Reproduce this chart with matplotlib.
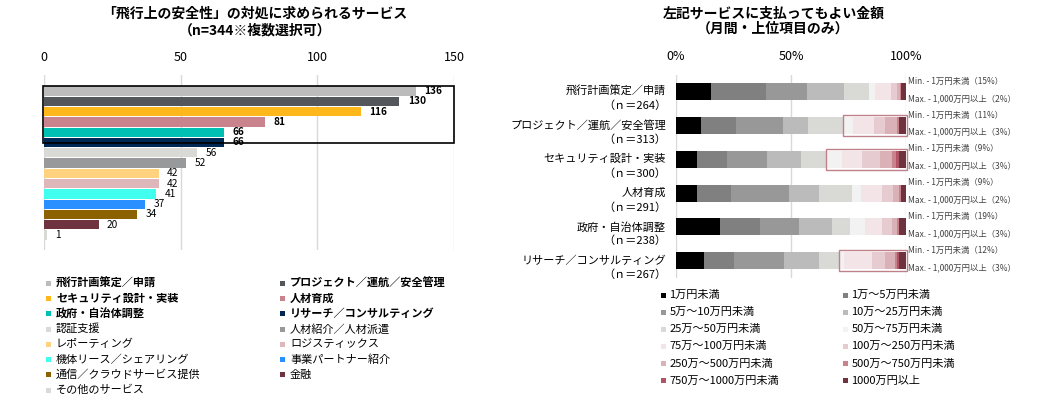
import matplotlib
matplotlib.use("Agg")
import numpy as np
import matplotlib.pyplot as plt
from matplotlib.patches import Rectangle
from matplotlib.transforms import blended_transform_factory

plt.rcParams['font.family'] = ['Noto Sans CJK JP', 'DejaVu Sans']

# ---------------------- Data ----------------------
services = ["飛行計画策定／申請", "プロジェクト／運航／安全管理", "セキュリティ設計・実装",
            "人材育成", "政府・自治体調整", "リサーチ／コンサルティング",
            "認証支援", "人材紹介／人材派遣", "レポーティング", "ロジスティックス",
            "機体リース／シェアリング", "事業パートナー紹介", "通信／クラウドサービス提供",
            "金融", "その他のサービス"]
counts = [136, 130, 116, 81, 66, 66, 56, 52, 42, 42, 41, 37, 34, 20, 1]
service_colors = ["#bcbcbc", "#53565a", "#ffb81c", "#c8838c", "#00bfb3", "#002855",
                  "#d9d9d6", "#97999b", "#ffd27f", "#deb7bb", "#40ffee", "#2a90ff",
                  "#8c6100", "#6f333f", "#d9d9d6"]
n_highlight = 6

price_bands = ["1万円未満", "1万～5万円未満", "5万～10万円未満", "10万～25万円未満",
               "25万～50万円未満", "50万～75万円未満", "75万～100万円未満", "100万～250万円未満",
               "250万～500万円未満", "500万～750万円未満", "750万～1000万円未満", "1000万円以上"]
band_colors = ["#000000", "#808080", "#989898", "#bbbbbb", "#d9d9d6", "#f2f2f2",
               "#f2e4e7", "#e6cbd0", "#dbb1b8", "#c8838c", "#b05565", "#6f333f"]
top_items = ["飛行計画策定／申請", "プロジェクト／運航／安全管理", "セキュリティ設計・実装",
             "人材育成", "政府・自治体調整", "リサーチ／コンサルティング"]
top_n = [264, 313, 300, 291, 238, 267]
shares = [
    [15, 24, 18, 16, 11, 2.5, 7, 2.5, 1.5, 0.3, 0.2, 2],
    [11, 15, 20.5, 11, 15, 4.5, 9, 5, 5, 0.8, 0.2, 3],
    [9, 13, 17.5, 15, 10.5, 7, 9, 7.5, 5.5, 1.5, 1.5, 3],
    [9, 15, 25, 13, 14.5, 4, 9, 5, 2.5, 0.8, 0.2, 2],
    [19, 17.5, 17, 14.5, 7.5, 6.5, 7.5, 4.5, 2, 0.8, 0.2, 3],
    [12, 13, 22, 15, 9, 2, 12, 6, 4, 1.3, 0.7, 3],
]
min_pct = [15, 11, 9, 9, 19, 12]
max_pct = [2, 3, 3, 2, 3, 3]
boxed = [False, True, True, False, False, True]

# ---------------------- Layout helpers ----------------------
W, H = 1058, 399
fig = plt.figure(figsize=(W / 100, H / 100), dpi=100)


def fx(px):
    return px / W


def fy(py):
    return 1 - py / H


def legend_block(items, colors, x_cols, y0, dy, bold_n=0, fontsize=8, msize=5, gap=8):
    for k, (lab, col) in enumerate(zip(items, colors)):
        r, c = divmod(k, 2)
        xm, y = x_cols[c], y0 + r * dy
        fig.patches.append(Rectangle((fx(xm - msize / 2), fy(y + msize / 2)),
                                     msize / W, msize / H, transform=fig.transFigure,
                                     color=col, lw=0))
        fig.text(fx(xm + gap), fy(y), lab, ha='left', va='center', fontsize=fontsize,
                 weight='bold' if k < bold_n else 'normal')


# ---------------------- Left: services ----------------------
ax1 = fig.add_axes([fx(44), fy(250), fx(454) - fx(44), fy(75) - fy(250)])
y = np.arange(len(services))
ax1.barh(y, counts, height=0.9, color=service_colors)
for i, v in enumerate(counts):
    ax1.annotate(str(v), (v, i), xytext=(6, 0), textcoords='offset points',
                 ha='left', va='center', fontsize=7.3,
                 weight='bold' if i < n_highlight else 'normal')
ax1.set_xlim(0, 150)
ax1.set_ylim(15.45, -1.555)
ax1.xaxis.tick_top()
ax1.set_xticks([0, 50, 100, 150])
ax1.tick_params(axis='x', length=0, pad=8, labelsize=9)
ax1.set_yticks([])
ax1.grid(axis='x', color='#d9d9d9', lw=1)
ax1.set_axisbelow(True)
for s in ax1.spines.values():
    s.set_visible(False)
ax1.add_patch(Rectangle((-0.5, -0.52), 150.5, n_highlight - 0.44, fill=False,
                        ec='black', lw=1.2, clip_on=False))

fig.text(fx(255), fy(14), "「飛行上の安全性」の対処に求められるサービス",
         ha='center', va='center', fontsize=10, weight='bold')
fig.text(fx(255), fy(30), "（n=344※複数選択可）",
         ha='center', va='center', fontsize=10, weight='bold')

legend_block(services, service_colors, [48, 282], 283.3, 15.25, bold_n=n_highlight)

# ---------------------- Right: willingness to pay ----------------------
ax2 = fig.add_axes([fx(676), fy(278), fx(906) - fx(676), fy(75) - fy(278)])
data = np.array(shares)
left = np.zeros(len(top_items))
rows = np.arange(len(top_items))
for j, col in enumerate(band_colors):
    ax2.barh(rows, data[:, j], left=left, height=0.5, color=col, lw=0)
    left += data[:, j]
ax2.set_xlim(0, 100)
ax2.set_ylim(5.51, -0.49)
ax2.xaxis.tick_top()
ax2.set_xticks([0, 50, 100])
ax2.set_xticklabels(["0%", "50%", "100%"])
ax2.tick_params(axis='x', length=0, pad=9, labelsize=9)
ax2.set_yticks([])
ax2.grid(axis='x', color='#d9d9d9', lw=1)
ax2.set_axisbelow(True)
for s in ax2.spines.values():
    s.set_visible(False)

trans = blended_transform_factory(ax2.transAxes, ax2.transData)
for i, (name, n) in enumerate(zip(top_items, top_n)):
    ax2.text(-0.043, i, name, transform=trans, ha='right', va='center', fontsize=8)
    ax2.text(-0.043, i + 0.42, f"（ｎ＝{n}）", transform=trans, ha='right', va='center',
             fontsize=8)
    ax2.text(100.8, i - 0.31, f"Min. - 1万円未満（{min_pct[i]}%）", ha='left',
             va='center', fontsize=6, color='#404040', clip_on=False)
    ax2.text(100.8, i + 0.2, f"Max. - 1,000万円以上（{max_pct[i]}%）", ha='left',
             va='center', fontsize=6, color='#404040', clip_on=False)
    if boxed[i]:
        start = data[i, :5].sum()
        ax2.add_patch(Rectangle((start, i - 0.305), 100.4 - start, 0.61, fill=False,
                                ec='#c0808a', lw=1, clip_on=False))

fig.text(fx(774), fy(13.5), "左記サービスに支払ってもよい金額",
         ha='center', va='center', fontsize=10, weight='bold')
fig.text(fx(773), fy(29), "（月間・上位項目のみ）",
         ha='center', va='center', fontsize=10, weight='bold')

legend_block(price_bands, band_colors, [663, 845], 295, 17.1, gap=6.5)

fig.savefig("out.png", dpi=100)
